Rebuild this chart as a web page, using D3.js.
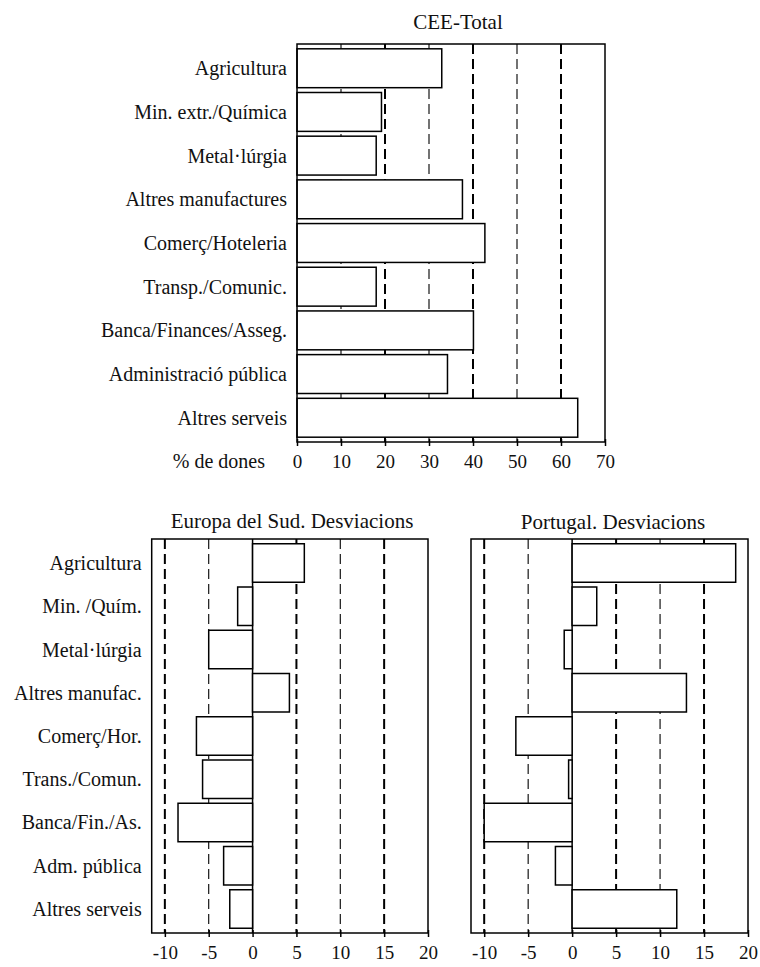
<!DOCTYPE html>
<html>
<head>
<meta charset="utf-8">
<script src="https://cdn.jsdelivr.net/npm/d3@7/dist/d3.min.js"></script>
<style>
  html, body { margin: 0; padding: 0; background: #fff; }
  svg { display: block; }
  text { font-family: "Liberation Serif", "DejaVu Serif", serif; fill: #111; }
</style>
</head>
<body>
<svg id="chart" width="760" height="967"></svg>
<script>
// ---- Data ----
const topCategories = ["Agricultura", "Min. extr./Química", "Metal·lúrgia", "Altres manufactures",
  "Comerç/Hoteleria", "Transp./Comunic.", "Banca/Finances/Asseg.", "Administració pública", "Altres serveis"];
const ceeTotal = [32.9, 19.2, 18.0, 37.6, 42.7, 18.0, 40.1, 34.2, 63.8];
const topTicks = [0, 10, 20, 30, 40, 50, 60, 70];

const bottomCategories = ["Agricultura", "Min. /Quím.", "Metal·lúrgia", "Altres manufac.",
  "Comerç/Hor.", "Trans./Comun.", "Banca/Fin./As.", "Adm. pública", "Altres serveis"];
const europaSud = [5.9, -1.7, -5.0, 4.2, -6.4, -5.7, -8.5, -3.3, -2.6];
const portugal = [18.6, 2.8, -0.9, 13.0, -6.4, -0.4, -10.0, -1.9, 11.9];
const devTicks = [-10, -5, 0, 5, 10, 15, 20];

const svg = d3.select("#chart");

function panel(opt) {
  const g = svg.append("g");
  const x = d3.scaleLinear().domain(opt.domain).range([opt.left, opt.right]);
  const y = d3.scaleBand().domain(opt.categories).range([opt.top, opt.bottom]).padding(0.11);

  // dashed gridlines
  g.selectAll("line.grid").data(opt.grid).join("line")
    .attr("class", "grid")
    .attr("x1", d => x(d)).attr("x2", d => x(d))
    .attr("y1", opt.top).attr("y2", opt.bottom)
    .attr("stroke", "#000")
    .attr("stroke-width", d => opt.thick(d) ? 2 : 1.1)
    .attr("stroke-dasharray", "10,5");

  // zero line
  if (opt.zeroLine) {
    g.append("line")
      .attr("x1", x(0)).attr("x2", x(0))
      .attr("y1", opt.top).attr("y2", opt.bottom)
      .attr("stroke", "#000").attr("stroke-width", 1.5);
  }

  // bars
  g.selectAll("rect.bar").data(opt.values).join("rect")
    .attr("class", "bar")
    .attr("x", d => x(Math.min(0, d)))
    .attr("width", d => Math.abs(x(d) - x(0)))
    .attr("y", (d, i) => y(opt.categories[i]))
    .attr("height", y.bandwidth())
    .attr("fill", "#fff")
    .attr("stroke", "#000")
    .attr("stroke-width", 1.5);

  // frame
  g.append("rect")
    .attr("x", opt.frameLeft).attr("y", opt.top)
    .attr("width", opt.right - opt.frameLeft).attr("height", opt.bottom - opt.top)
    .attr("fill", "none").attr("stroke", "#000").attr("stroke-width", 1.5);

  // x axis
  const ax = g.append("g").attr("transform", `translate(0,${opt.bottom})`)
    .call(d3.axisBottom(x).tickValues(opt.ticks).tickFormat(d => String(d))
      .tickSize(4).tickSizeOuter(0).tickPadding(9));
  ax.select(".domain").remove();
  ax.selectAll(".tick line").attr("stroke", "#000").attr("stroke-width", 1.5).attr("y1", -3);
  ax.selectAll(".tick text").attr("font-size", 19)
    .attr("font-family", "Liberation Serif, serif").attr("fill", "#111");

  // y labels
  if (opt.showLabels) {
    g.selectAll("text.cat").data(opt.categories).join("text")
      .attr("class", "cat")
      .attr("x", opt.frameLeft - 10)
      .attr("y", d => y(d) + y.bandwidth() / 2)
      .attr("dy", "0.35em")
      .attr("text-anchor", "end")
      .attr("font-size", 20)
      .text(d => d);
  }

  // title
  g.append("text")
    .attr("x", opt.titleX).attr("y", opt.titleY)
    .attr("text-anchor", "middle")
    .attr("font-size", 21)
    .text(opt.title);
  return {x, y};
}

panel({
  categories: topCategories, values: ceeTotal, domain: [0, 70],
  left: 297, right: 605, frameLeft: 297, top: 44, bottom: 442,
  grid: [10, 20, 30, 40, 50, 60], thick: d => d % 20 === 0,
  ticks: topTicks, showLabels: true, zeroLine: false,
  title: "CEE-Total", titleX: 458, titleY: 29
});
svg.append("text").attr("x", 265).attr("y", 468).attr("text-anchor", "end")
  .attr("font-size", 20).text("% de dones");

const devCommon = {
  domain: [-11.5, 20], top: 539, bottom: 933,
  grid: [-10, -5, 5, 10, 15], thick: d => (d === -10 || d === 5 || d === 15),
  ticks: devTicks, zeroLine: true
};
panel(Object.assign({}, devCommon, {
  categories: bottomCategories, values: europaSud,
  left: 151.7, right: 428, frameLeft: 151.7, showLabels: true,
  title: "Europa del Sud. Desviacions", titleX: 292, titleY: 528
}));
panel(Object.assign({}, devCommon, {
  categories: bottomCategories, values: portugal,
  left: 471, right: 748, frameLeft: 471, showLabels: false,
  title: "Portugal. Desviacions", titleX: 613, titleY: 529
}));
</script>
</body>
</html>
